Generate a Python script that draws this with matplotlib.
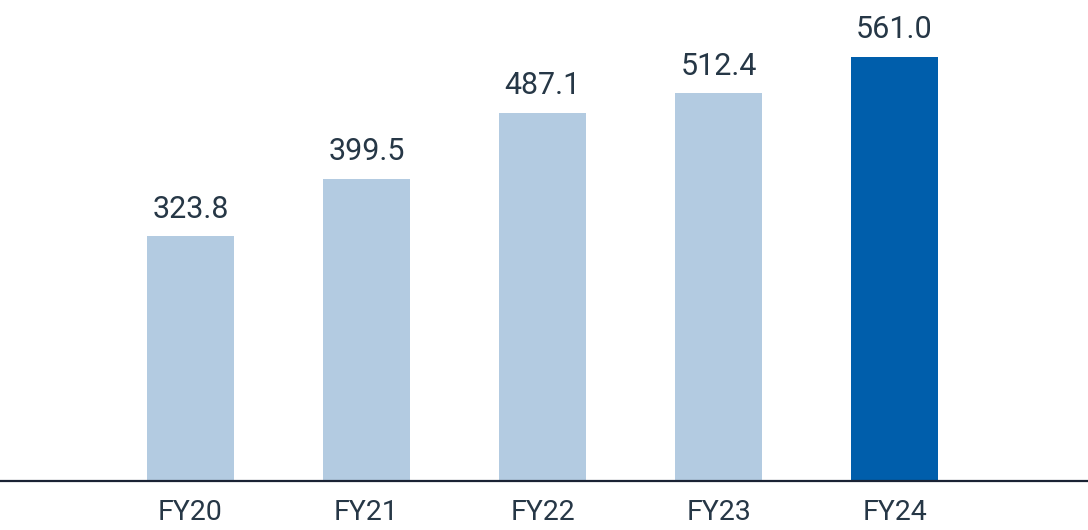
import matplotlib
matplotlib.use("Agg")
import matplotlib.pyplot as plt

TEXT = "#263746"
LIGHT = "#B3CBE1"
DARK = "#005EAB"

years = ["FY20", "FY21", "FY22", "FY23", "FY24"]
revenue = [323.8, 399.5, 487.1, 512.4, 561.0]
highlight = [False, False, False, False, True]

plt.rcParams["font.family"] = ["Roboto", "DejaVu Sans"]

fig = plt.figure(figsize=(10.88, 5.30), dpi=100)
ax = fig.add_axes([0, 49 / 530, 1, 481 / 530])

xs = list(range(len(years)))
colors = [DARK if h else LIGHT for h in highlight]
ax.bar(xs, revenue, width=0.49, color=colors, zorder=2)

for x, v in zip(xs, revenue):
    ax.annotate(f"{v:.1f}", (x, v), xytext=(0, 9), textcoords="offset points",
                ha="center", va="bottom", fontsize=22, color=TEXT)

ax.set_xlim(-1.082, 5.099)
ax.set_ylim(0, 636)
ax.set_xticks(xs)
ax.set_xticklabels(years, fontsize=20.5, color=TEXT)
ax.tick_params(axis="x", length=0, pad=13)
ax.set_yticks([])
for side in ["top", "right", "left"]:
    ax.spines[side].set_visible(False)
ax.spines["bottom"].set_color("#1a2233")
ax.spines["bottom"].set_linewidth(1.6)

fig.savefig("out.png", dpi=100)
